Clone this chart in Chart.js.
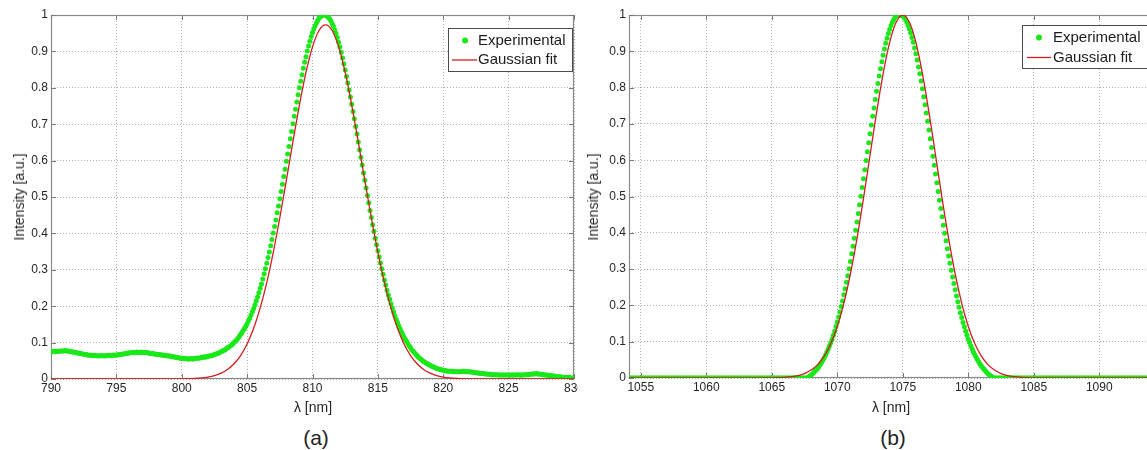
<!DOCTYPE html>
<html><head><meta charset="utf-8">
<script src="https://cdn.jsdelivr.net/npm/chart.js@4.4.1/dist/chart.umd.min.js"></script>
<style>
html,body{margin:0;padding:0;background:#fff;overflow:hidden;width:1147px;height:450px;}
#wrap{position:relative;width:1147px;height:450px;overflow:hidden;background:#fff;}
.cv{position:absolute;top:0;}
.lbl{position:absolute;font-family:'Liberation Sans',Arial,sans-serif;color:#262626;white-space:nowrap;line-height:1;transform:translate(-50%,-50%);}
.rot{transform:translate(-50%,-50%) rotate(-90deg);}
</style></head>
<body><div id="wrap">
<canvas id="ca" class="cv" style="left:0" width="578" height="400"></canvas>
<canvas id="cb" class="cv" style="left:580px" width="580" height="400"></canvas>
<div class="lbl rot" style="left:19px;top:197px;font-size:14px">Intensity [a.u.]</div>
<div class="lbl rot" style="left:593px;top:197px;font-size:14px">Intensity [a.u.]</div>
<div class="lbl" style="left:313px;top:407px;font-size:14px">λ [nm]</div>
<div class="lbl" style="left:891px;top:407px;font-size:14px">λ [nm]</div>
<div class="lbl" style="left:316px;top:437px;font-size:21px;color:#222">(a)</div>
<div class="lbl" style="left:893px;top:437px;font-size:21px;color:#222">(b)</div>
</div>
<script>
// ---------- data ----------
const seriesNames = ['Experimental', 'Gaussian fit'];
const yTicks = [0,0.1,0.2,0.3,0.4,0.5,0.6,0.7,0.8,0.9,1];
const yTickLabels = ['0','0.1','0.2','0.3','0.4','0.5','0.6','0.7','0.8','0.9','1'];
const xTicksA = [790,795,800,805,810,815,820,825,830];
const xTicksB = [1055,1060,1065,1070,1075,1080,1085,1090];

// wavelength sampling grids (nm)
const expA_start = 790, expB_start = 1054, exp_step = 0.1;
const fitA_start = 790, fitB_start = 1054, fit_step = 0.5;

// (a) experimental intensity, 790.0 .. 830.0 nm
const expA = [
0.075,0.075,0.076,0.075,0.076,0.076,0.077,0.076,0.077,0.077,
0.077,0.078,0.077,0.077,0.076,0.075,0.075,0.074,0.073,0.072,
0.072,0.071,0.070,0.070,0.069,0.068,0.067,0.067,0.066,0.065,
0.065,0.065,0.064,0.065,0.064,0.064,0.063,0.064,0.064,0.064,
0.064,0.063,0.064,0.064,0.065,0.065,0.064,0.065,0.066,0.065,
0.066,0.066,0.067,0.067,0.068,0.069,0.069,0.070,0.071,0.071,
0.072,0.072,0.073,0.073,0.072,0.073,0.074,0.073,0.073,0.074,
0.073,0.073,0.072,0.073,0.072,0.071,0.071,0.070,0.070,0.069,
0.068,0.068,0.067,0.067,0.066,0.066,0.065,0.065,0.064,0.064,
0.063,0.063,0.062,0.061,0.061,0.060,0.059,0.059,0.058,0.057,
0.057,0.057,0.056,0.056,0.055,0.055,0.055,0.056,0.055,0.055,
0.057,0.057,0.058,0.057,0.058,0.059,0.059,0.061,0.060,0.061,
0.062,0.063,0.064,0.064,0.066,0.067,0.068,0.070,0.071,0.073,
0.075,0.076,0.079,0.080,0.083,0.086,0.087,0.091,0.093,0.097,
0.100,0.104,0.107,0.112,0.117,0.122,0.127,0.133,0.139,0.145,
0.152,0.160,0.167,0.176,0.185,0.194,0.204,0.215,0.225,0.237,
0.249,0.261,0.275,0.289,0.303,0.318,0.334,0.349,0.366,0.383,
0.401,0.419,0.437,0.457,0.475,0.495,0.515,0.535,0.556,0.576,
0.598,0.618,0.639,0.660,0.680,0.701,0.722,0.741,0.761,0.781,
0.800,0.818,0.836,0.854,0.870,0.885,0.901,0.915,0.928,0.941,
0.952,0.962,0.970,0.978,0.985,0.991,0.995,0.997,0.999,1.000,
0.999,0.997,0.994,0.990,0.984,0.976,0.969,0.959,0.949,0.938,
0.925,0.912,0.898,0.882,0.866,0.849,0.831,0.813,0.794,0.775,
0.755,0.735,0.715,0.694,0.673,0.651,0.630,0.609,0.588,0.566,
0.546,0.525,0.504,0.484,0.463,0.444,0.424,0.406,0.387,0.369,
0.352,0.335,0.319,0.303,0.288,0.272,0.258,0.244,0.231,0.219,
0.207,0.196,0.185,0.174,0.164,0.155,0.146,0.138,0.130,0.122,
0.115,0.109,0.103,0.096,0.091,0.086,0.080,0.076,0.072,0.068,
0.064,0.060,0.057,0.054,0.051,0.048,0.046,0.043,0.042,0.039,
0.038,0.035,0.034,0.032,0.031,0.029,0.028,0.027,0.026,0.025,
0.024,0.024,0.022,0.022,0.021,0.021,0.021,0.021,0.020,0.020,
0.020,0.020,0.020,0.020,0.020,0.021,0.021,0.020,0.020,0.020,
0.020,0.019,0.019,0.018,0.018,0.017,0.017,0.016,0.016,0.015,
0.015,0.015,0.014,0.014,0.013,0.013,0.013,0.012,0.012,0.012,
0.012,0.012,0.011,0.011,0.011,0.011,0.011,0.011,0.011,0.011,
0.011,0.011,0.011,0.011,0.011,0.011,0.011,0.012,0.011,0.011,
0.011,0.011,0.012,0.012,0.012,0.012,0.013,0.013,0.014,0.014,
0.014,0.015,0.014,0.014,0.013,0.013,0.012,0.012,0.011,0.011,
0.010,0.010,0.009,0.009,0.008,0.008,0.007,0.007,0.006,0.006,
0.006,0.005,0.005,0.005,0.004,0.004,0.004,0.004,0.003,0.003,
0.003];

// (a) Gaussian fit, 790.0 .. 830.0 nm every 0.5 nm
const fitA = [
0,0,0,0,0,0,0,0,0,0,0,0,0,0,0,0,0,0,0,0,
0.0004,0.0008,0.0016,0.003,0.0054,0.0094,0.016,0.0263,0.0418,0.0645,
0.0963,0.1394,0.1954,0.265,0.3482,0.443,0.5459,0.6513,0.7526,0.8421,
0.9125,0.9575,0.973,0.9575,0.9125,0.8421,0.7526,0.6513,0.5459,0.443,
0.3482,0.265,0.1954,0.1394,0.0963,0.0645,0.0418,0.0263,0.016,0.0094,
0.0054,0.003,0.0016,0.0008,0.0004,
0,0,0,0,0,0,0,0,0,0,0,0,0,0,0,0];

// (b) experimental intensity, 1054.0 .. 1094.0 nm
const expB = [
0,0,0,0,0,0,0,0,0,0, 0,0,0,0,0,0,0,0,0,0, 0,0,0,0,0,0,0,0,0,0,
0,0,0,0,0,0,0,0,0,0, 0,0,0,0,0,0,0,0,0,0, 0,0,0,0,0,0,0,0,0,0,
0,0,0,0,0,0,0,0,0,0, 0,0,0,0,0,0,0,0,0,0, 0,0,0,0,0,0,0,0,0,0,
0,0,0,0,0,0,0,0,0,0, 0,0,0,0,0,0,0,0,0,0, 0,0,0,0,0,0,0,0,0,0,
0,0,0,0,0,0,0,0,0,0, 0,0,0,0,0,0,0,0,
0.003,0.005,0.008,0.011,0.015,0.019,0.023,0.027,0.032,0.037,
0.043,0.049,0.056,0.063,0.071,0.079,0.088,0.097,0.107,0.118,
0.129,0.142,0.154,0.168,0.182,0.197,0.212,0.229,0.246,0.264,
0.282,0.301,0.321,0.342,0.363,0.385,0.407,0.430,0.453,0.477,
0.501,0.525,0.549,0.574,0.599,0.623,0.648,0.673,0.697,0.721,
0.744,0.767,0.790,0.811,0.832,0.852,0.871,0.889,0.906,0.922,
0.936,0.949,0.961,0.971,0.980,0.987,0.993,0.997,0.999,
1.000,1.000,
0.999,0.997,0.993,0.988,0.981,0.972,0.962,0.951,0.938,
0.925,0.909,0.893,0.876,0.857,0.838,0.818,0.797,0.775,0.753,
0.730,0.707,0.683,0.659,0.635,0.611,0.586,0.562,0.538,0.514,
0.490,0.467,0.444,0.421,0.399,0.378,0.356,0.336,0.316,0.297,
0.278,0.260,0.243,0.226,0.210,0.195,0.180,0.167,0.153,0.141,
0.129,0.118,0.107,0.098,0.088,0.080,0.071,0.064,0.057,0.050,
0.044,0.038,0.033,0.028,0.024,0.020,0.016,0.012,0.009,0.006,
0.004,0.001,
0,0,0,0,0,0,0,0,0,0, 0,0,0,0,0,0,0,0,0,0, 0,0,0,0,0,0,0,0,0,0,
0,0,0,0,0,0,0,0,0,0, 0,0,0,0,0,0,0,0,0,0, 0,0,0,0,0,0,0,0,0,0,
0,0,0,0,0,0,0,0,0,0, 0,0,0,0,0,0,0,0,0,0, 0,0,0,0,0,0,0,0,0,0,
0,0,0,0,0,0,0,0,0,0, 0,0,0,0,0,0,0,0,0,0, 0,0,0,0,0,0,0,0,0,0,
0];

// (b) Gaussian fit, 1054.0 .. 1094.0 nm every 0.5 nm
const fitB = [
0,0,0,0,0,0,0,0,0,0,0,0,0,0,0,0,0,0,0,0,0,0,
0.0004,0.0009,0.0018,0.0035,0.0067,0.0123,0.0218,0.0369,0.0601,0.0941,
0.1419,0.2056,0.2865,0.384,0.495,0.6137,0.7316,0.8388,0.9248,0.9807,
1,
0.9807,0.9248,0.8388,0.7316,0.6137,0.495,0.384,0.2865,0.2056,0.1419,
0.0941,0.0601,0.0369,0.0218,0.0123,0.0067,0.0035,0.0018,0.0009,0.0004,
0,0,0,0,0,0,0,0,0,0,0,0,0,0,0,0,0,0];

// ---------- styling ----------
const GREEN = 'rgb(25,232,25)';
const RED = 'rgb(212,28,32)';
const GRID = 'rgba(150,150,150,0.75)';
const FRAME = '#8a8a8a';
const TXT = '#262626';
Chart.defaults.font.family = "'Liberation Sans', Arial, sans-serif";

function gridPoints(start, step, values){
  return values.map((v,i)=>({x: Math.round((start + i*step)*100)/100, y: v}));
}

function framePlugin(leg, xTicks){
  return {
    id:'frame',
    beforeDatasetsDraw(chart){
      const {ctx, chartArea:a, scales:{x,y}} = chart;
      ctx.save();
      ctx.strokeStyle = FRAME; ctx.lineWidth = 1.2;
      ctx.strokeRect(a.left+0.5, a.top+0.5, a.right-a.left-1, a.bottom-a.top-1);
      ctx.lineWidth = 1; ctx.strokeStyle = '#7a7a7a';
      ctx.beginPath();
      xTicks.forEach(v=>{
        const px = Math.round(x.getPixelForValue(v))+0.5;
        ctx.moveTo(px, a.bottom); ctx.lineTo(px, a.bottom-5);
        ctx.moveTo(px, a.top); ctx.lineTo(px, a.top+5);
      });
      yTicks.forEach(v=>{
        const py = Math.round(y.getPixelForValue(v))+0.5;
        ctx.moveTo(a.left, py); ctx.lineTo(a.left+5, py);
        ctx.moveTo(a.right, py); ctx.lineTo(a.right-5, py);
      });
      ctx.stroke();
      ctx.restore();
    },
    afterDraw(chart){
      const ctx = chart.ctx;
      const names = chart.data.datasets.map(d=>d.label);
      ctx.save();
      ctx.fillStyle = '#fff';
      ctx.fillRect(leg.x, leg.y, leg.w, leg.h);
      ctx.strokeStyle = '#4a4a4a'; ctx.lineWidth = 1;
      ctx.strokeRect(leg.x+0.5, leg.y+0.5, leg.w, leg.h);
      ctx.fillStyle = GREEN;
      ctx.beginPath(); ctx.arc(leg.dotX, leg.row1, 3, 0, Math.PI*2); ctx.fill();
      ctx.strokeStyle = RED; ctx.lineWidth = 1.3;
      ctx.beginPath(); ctx.moveTo(leg.lineX0, leg.row2); ctx.lineTo(leg.lineX1, leg.row2); ctx.stroke();
      ctx.fillStyle = '#1c1c1c';
      ctx.font = "15px 'Liberation Sans', Arial, sans-serif";
      ctx.textBaseline = 'middle'; ctx.textAlign = 'left';
      ctx.fillText(names[0], leg.textX, leg.row1);
      ctx.fillText(names[1], leg.textX, leg.row2);
      ctx.restore();
    }
  };
}

function makeChart(id, cfg){
  return new Chart(document.getElementById(id), {
    type:'scatter',
    data:{datasets:[
      {label:seriesNames[0], data:gridPoints(cfg.expStart, exp_step, cfg.exp), showLine:false,
       pointRadius:2.5, pointBackgroundColor:GREEN, pointBorderColor:GREEN, pointBorderWidth:0, order:1},
      {label:seriesNames[1], data:gridPoints(cfg.fitStart, fit_step, cfg.fit), showLine:true,
       borderColor:RED, borderWidth:1.3, pointRadius:0, cubicInterpolationMode:'monotone', order:0}
    ]},
    options:{
      responsive:false, animation:false, events:[],
      layout:{padding:{left:0, right:cfg.padR, top:15, bottom:0}},
      plugins:{legend:{display:false}, tooltip:{enabled:false}},
      scales:{
        x:{type:'linear', min:cfg.xMin, max:cfg.xMax,
           afterBuildTicks:s=>{s.ticks = cfg.xTicks.map(v=>({value:v}));},
           afterFit:s=>{s.height = cfg.xAxisH; s.paddingLeft = 0; s.paddingRight = 0;},
           grid:{color:GRID, lineWidth:1, drawTicks:false},
           border:{display:false, dash:[1,2]},
           ticks:{padding:2, color:TXT, font:{size:12}, maxRotation:0, autoSkip:false, callback:v=>String(v)}},
        y:{type:'linear', min:0, max:1,
           afterBuildTicks:s=>{s.ticks = yTicks.map(v=>({value:v}));},
           afterFit:s=>{s.width = cfg.yAxisW; s.paddingTop = 0; s.paddingBottom = 0;},
           grid:{color:GRID, lineWidth:1, drawTicks:false},
           border:{display:false, dash:[1,2]},
           ticks:{padding:3, color:TXT, font:{size:12}, autoSkip:false, callback:(v,i)=>yTickLabels[i]}}
      }
    },
    plugins:[framePlugin(cfg.legend, cfg.xTicks)]
  });
}

makeChart('ca', {exp:expA, expStart:expA_start, fit:fitA, fitStart:fitA_start,
  xMin:790, xMax:830, xTicks:xTicksA, padR:2, xAxisH:21, yAxisW:51,
  legend:{x:448, y:28, w:124, h:43, dotX:465, lineX0:452, lineX1:477, textX:478, row1:40.5, row2:60}});
makeChart('cb', {exp:expB, expStart:expB_start, fit:fitB, fitStart:fitB_start,
  xMin:1054.1, xMax:1094.1, xTicks:xTicksB, padR:7, xAxisH:22, yAxisW:49,
  legend:{x:442, y:25, w:130, h:43, dotX:459, lineX0:447, lineX1:471, textX:473, row1:37.5, row2:57.5}});
</script>
</body></html>
